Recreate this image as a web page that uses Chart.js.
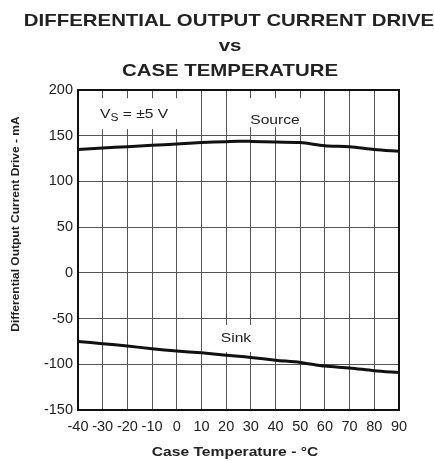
<!DOCTYPE html>
<html>
<head>
<meta charset="utf-8">
<script src="https://cdn.jsdelivr.net/npm/chart.js@4/dist/chart.umd.min.js"></script>
<style>
  html, body { margin: 0; padding: 0; background: #fff; }
  #wrap { width: 434px; height: 461px; }
</style>
</head>
<body>
<div id="wrap"><canvas id="chart" width="434" height="461"></canvas></div>
<script>
// values
const temps = [-40, -30, -20, -10, 0, 10, 20, 25, 30, 40, 50, 60, 70, 80, 90];
const sourceMA = [135, 136.5, 138, 139.5, 141, 142.5, 143.5, 144, 143.8, 143, 142.5, 139, 138, 135, 133];
const sinkMA = [-75, -77.5, -80, -83, -85.5, -87.5, -90, -91.2, -92.5, -95.5, -98, -102, -104, -107, -109];
const xTicks = [-40, -30, -20, -10, 0, 10, 20, 30, 40, 50, 60, 70, 80, 90];
const yTicks = [-150, -100, -50, 0, 50, 100, 150, 200];

const titleLines = ['DIFFERENTIAL OUTPUT CURRENT DRIVE', 'vs', 'CASE TEMPERATURE'];
const FONT = 'Arial, "Liberation Sans", Helvetica, sans-serif';
const STRETCH = 1.2; // original lettering is a little wide

function pts(ys){
  return temps.map((t, i) => ({x: t, y: ys[i]}));
}

// draw text widened horizontally, returns drawn width
function wideText(ctx, txt, x, y, font, align){
  ctx.save();
  ctx.font = font;
  ctx.textBaseline = 'middle';
  ctx.textAlign = align || 'center';
  ctx.translate(x, y);
  ctx.scale(STRETCH, 1);
  ctx.fillText(txt, 0, 0);
  const w = ctx.measureText(txt).width * STRETCH;
  ctx.restore();
  return w;
}

// titles + in-plot labels (white boxes break the grid like the original)
const textPlugin = {
  id: 'texts',
  beforeDatasetsDraw(chart){
    const ctx = chart.ctx;
    const xs = chart.scales.x, ys = chart.scales.y;
    const box = (x0, x1, v0, h) => {
      const l = xs.getPixelForValue(x0), r = xs.getPixelForValue(x1);
      ctx.fillRect(l, ys.getPixelForValue(v0), r - l, h);
    };
    ctx.save();
    ctx.fillStyle = '#fff';
    box(-37, 3, 191, 31);
    box(25, 53, 191, 29);
    box(15.5, 33, -57, 27);
    ctx.restore();
  },
  afterDraw(chart){
    const ctx = chart.ctx;
    ctx.save();
    ctx.fillStyle = '#222';
    wideText(ctx, titleLines[0], 229, 21, 'bold 17px ' + FONT);
    wideText(ctx, titleLines[1], 230, 46, 'bold 17px ' + FONT);
    wideText(ctx, titleLines[2], 230, 71, 'bold 17px ' + FONT);

    wideText(ctx, 'Case Temperature - °C', 235, 452, 'bold 13px ' + FONT);

    ctx.save();
    ctx.translate(16, 224);
    ctx.rotate(-Math.PI / 2);
    wideText(ctx, 'Differential Output Current Drive - mA', 0, 0, 'bold 10px ' + FONT);
    ctx.restore();

    wideText(ctx, 'Source', 275, 120, '13px ' + FONT);
    wideText(ctx, 'Sink', 236, 338, '13px ' + FONT);

    // V_S = ±5 V with subscript
    let x = 100;
    x += wideText(ctx, 'V', x, 114, '13px ' + FONT, 'left');
    x += wideText(ctx, 'S', x, 118, '10px ' + FONT, 'left');
    wideText(ctx, ' = ±5 V', x, 114, '13px ' + FONT, 'left');
    ctx.restore();
  }
};

new Chart(document.getElementById('chart'), {
  type: 'line',
  data: {
    datasets: [
      { label: 'Source', data: pts(sourceMA), borderColor: '#111', borderWidth: 3, pointRadius: 0, tension: 0.3, fill: false },
      { label: 'Sink', data: pts(sinkMA), borderColor: '#111', borderWidth: 3, pointRadius: 0, tension: 0.3, fill: false }
    ]
  },
  options: {
    responsive: false,
    animation: false,
    events: [],
    layout: { padding: { top: 90, right: 35, left: 0, bottom: 0 } },
    plugins: { legend: { display: false }, title: { display: false }, tooltip: { enabled: false } },
    scales: {
      x: {
        type: 'linear', min: -40, max: 90,
        afterFit: s => { s.height = 51; },
        afterBuildTicks: s => { s.ticks = xTicks.map(v => ({value: v})); },
        grid: { color: '#555', lineWidth: 1, drawTicks: false },
        border: { color: '#111', width: 2 },
        ticks: { color: '#222', font: { family: FONT, size: 14.5 }, padding: 8, maxRotation: 0, autoSkip: false }
      },
      y: {
        type: 'linear', min: -150, max: 200,
        afterFit: s => { s.width = 78; },
        afterBuildTicks: s => { s.ticks = yTicks.map(v => ({value: v})); },
        grid: { color: '#555', lineWidth: 1, drawTicks: false },
        border: { color: '#111', width: 2 },
        ticks: { color: '#222', font: { family: FONT, size: 14.5 }, padding: 5 }
      }
    }
  },
  plugins: [textPlugin, {
    id: 'frame',
    afterDatasetsDraw(chart){
      const a = chart.chartArea, ctx = chart.ctx;
      ctx.save();
      ctx.strokeStyle = '#111';
      ctx.lineWidth = 2;
      ctx.strokeRect(a.left, a.top, a.right - a.left, a.bottom - a.top);
      ctx.restore();
    }
  }]
});
</script>
</body>
</html>
